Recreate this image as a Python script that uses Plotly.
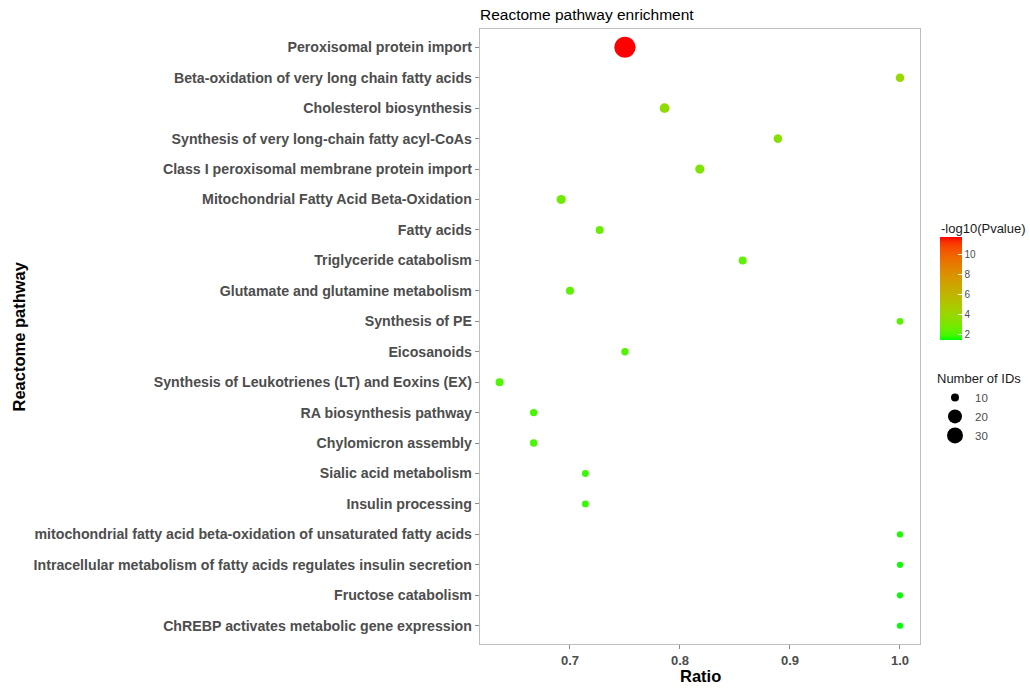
import plotly.graph_objects as go

# ---------------- data ----------------
pathways = [
    "Peroxisomal protein import",
    "Beta-oxidation of very long chain fatty acids",
    "Cholesterol biosynthesis",
    "Synthesis of very long-chain fatty acyl-CoAs",
    "Class I peroxisomal membrane protein import",
    "Mitochondrial Fatty Acid Beta-Oxidation",
    "Fatty acids",
    "Triglyceride catabolism",
    "Glutamate and glutamine metabolism",
    "Synthesis of PE",
    "Eicosanoids",
    "Synthesis of Leukotrienes (LT) and Eoxins (EX)",
    "RA biosynthesis pathway",
    "Chylomicron assembly",
    "Sialic acid metabolism",
    "Insulin processing",
    "mitochondrial fatty acid beta-oxidation of unsaturated fatty acids",
    "Intracellular metabolism of fatty acids regulates insulin secretion",
    "Fructose catabolism",
    "ChREBP activates metabolic gene expression",
]
ratio = [0.75, 1.0, 0.786, 0.889, 0.818, 0.692, 0.727, 0.857, 0.70, 1.0,
         0.75, 0.636, 0.667, 0.667, 0.714, 0.714, 1.0, 1.0, 1.0, 1.0]
n_ids = [32, 11, 13, 11, 12, 12, 10, 10, 10, 8,
         9, 10, 9, 9, 8, 8, 7, 7, 7, 7]
neglog10p = [11.8, 4.0, 3.8, 3.5, 3.2, 2.8, 2.6, 2.4, 2.4, 2.3,
             2.2, 2.1, 2.0, 2.0, 1.9, 1.9, 1.7, 1.6, 1.55, 1.5]
color_ticks = [2, 4, 6, 8, 10]
size_breaks = [10, 20, 30]
x_ticks = [0.7, 0.8, 0.9, 1.0]
x_ticklabels = ["0.7", "0.8", "0.9", "1.0"]

# ---------------- helpers ----------------
def size_px(n):
    return 2 + 0.6 * n

def _srgb_to_lin(c):
    c = c / 255.0
    return c / 12.92 if c <= 0.04045 else ((c + 0.055) / 1.055) ** 2.4

def _lin_to_srgb(c):
    c = max(0.0, min(1.0, c))
    v = 12.92 * c if c <= 0.0031308 else 1.055 * c ** (1 / 2.4) - 0.055
    return int(round(max(0, min(1, v)) * 255))

def rgb_to_lab(rgb):
    r, g, b = [_srgb_to_lin(v) for v in rgb]
    X = (0.4124 * r + 0.3576 * g + 0.1805 * b) / 0.95047
    Y = (0.2126 * r + 0.7152 * g + 0.0722 * b)
    Z = (0.0193 * r + 0.1192 * g + 0.9505 * b) / 1.08883
    f = lambda t: t ** (1 / 3) if t > 0.008856 else 7.787 * t + 16 / 116
    fx, fy, fz = f(X), f(Y), f(Z)
    return 116 * fy - 16, 500 * (fx - fy), 200 * (fy - fz)

def lab_to_rgb(lab):
    L, a, b = lab
    fy = (L + 16) / 116
    fx = fy + a / 500
    fz = fy - b / 200
    finv = lambda t: t ** 3 if t ** 3 > 0.008856 else (t - 16 / 116) / 7.787
    X, Y, Z = 0.95047 * finv(fx), finv(fy), 1.08883 * finv(fz)
    r = 3.2406 * X - 1.5372 * Y - 0.4986 * Z
    g = -0.9689 * X + 1.8758 * Y + 0.0415 * Z
    bb = 0.0557 * X - 0.2040 * Y + 1.0570 * Z
    return _lin_to_srgb(r), _lin_to_srgb(g), _lin_to_srgb(bb)

low, high = rgb_to_lab((0, 255, 0)), rgb_to_lab((255, 0, 0))
colorscale = []
for i in range(21):
    t = i / 20
    lab = tuple(low[k] + (high[k] - low[k]) * t for k in range(3))
    r, g, b = lab_to_rgb(lab)
    colorscale.append([t, f"rgb({r},{g},{b})"])

# ---------------- layout geometry ----------------
W, H = 1030, 688
L, R, T, B = 480, 920, 29, 644
pw, ph = R - L, B - T
def px_x(x):
    return (x - L) / pw
def px_y(y):
    return (B - y) / ph
def cx(x):
    return x / W
def cy(y):
    return 1 - y / H

FONT = "Liberation Sans, Arial, sans-serif"
GRAY = "#4D4D4D"

fig = go.Figure()
fig.add_trace(go.Scatter(
    x=ratio, y=pathways, mode="markers", showlegend=False,
    marker=dict(
        size=[size_px(n) for n in n_ids],
        color=neglog10p, colorscale=colorscale, cmin=1.5, cmax=11.8,
        line=dict(width=0), opacity=1,
        colorbar=dict(
            thickness=22, thicknessmode="pixels",
            len=103, lenmode="pixels",
            x=cx(940), xanchor="left", xref="container",
            y=cy(322.5), yanchor="middle", yref="container",
            xpad=0, ypad=0, outlinewidth=0,
            tickvals=color_ticks, ticks="inside", tickcolor="white",
            ticklen=4, tickwidth=1,
            tickfont=dict(size=10, color=GRAY, family=FONT),
        ),
    ),
    hovertemplate="%{y}<br>Ratio=%{x}<extra></extra>",
))

for sb in size_breaks:
    fig.add_trace(go.Scatter(
        x=[None], y=[None], mode="markers", name=str(sb),
        marker=dict(size=size_px(sb), color="black", line=dict(width=0)),
        showlegend=True,
    ))

fig.update_layout(
    width=W, height=H, autosize=False,
    margin=dict(l=L, r=W - R, t=T, b=H - B, autoexpand=False),
    paper_bgcolor="white", plot_bgcolor="white",
    font=dict(family=FONT, color=GRAY),
    title=dict(text="Reactome pathway enrichment", x=cx(480), xref="container",
               xanchor="left", y=cy(15), yref="container", yanchor="middle",
               font=dict(size=15.5, color="black", family=FONT)),
    xaxis=dict(
        range=[0.6182, 1.0182], tickvals=x_ticks,
        ticktext=[f"<b>{t}</b>" for t in x_ticklabels],
        showgrid=False, zeroline=False, automargin=False,
        showline=True, mirror=True, linecolor="#BEBEBE", linewidth=1.2,
        ticks="outside", ticklen=4, tickcolor="#8C8C8C",
        tickfont=dict(size=13, color=GRAY, family=FONT),
    ),
    yaxis=dict(
        type="category", categoryorder="array", categoryarray=pathways,
        tickvals=pathways, ticktext=[f"<b>{p}</b>" for p in pathways],
        range=[len(pathways) - 1 + 0.6, -0.6],
        showgrid=False, zeroline=False, automargin=False,
        showline=True, mirror=True, linecolor="#BEBEBE", linewidth=1.2,
        ticks="outside", ticklen=4, tickcolor="#8C8C8C",
        tickfont=dict(size=14.2, color=GRAY, family=FONT),
    ),
    legend=dict(
        title=dict(text="Number of IDs", font=dict(size=13, color="#1A1A1A", family=FONT)),
        x=cx(935), xanchor="left", xref="container",
        y=cy(366), yanchor="top", yref="container",
        font=dict(size=11.5, color=GRAY, family=FONT),
        itemsizing="trace", bgcolor="rgba(0,0,0,0)", tracegroupgap=0,
    ),
    annotations=[
        dict(text="<b>Ratio</b>", x=0.5, y=px_y(676), xref="paper", yref="paper",
             showarrow=False, xanchor="center", yanchor="middle",
             font=dict(size=16.5, color="black", family=FONT)),
        dict(text="<b>Reactome pathway</b>", x=px_x(18), y=0.5, xref="paper", yref="paper",
             showarrow=False, xanchor="center", yanchor="middle", textangle=-90,
             font=dict(size=16.5, color="black", family=FONT)),
        dict(text="-log10(Pvalue)", x=px_x(939), y=px_y(228), xref="paper", yref="paper",
             showarrow=False, xanchor="left", yanchor="middle",
             font=dict(size=13, color="#1A1A1A", family=FONT)),
    ],
)

fig.write_html("out.html",
               config={"displayModeBar": False, "staticPlot": True},
               post_script="document.body.style.margin='0';document.body.style.padding='0';")
